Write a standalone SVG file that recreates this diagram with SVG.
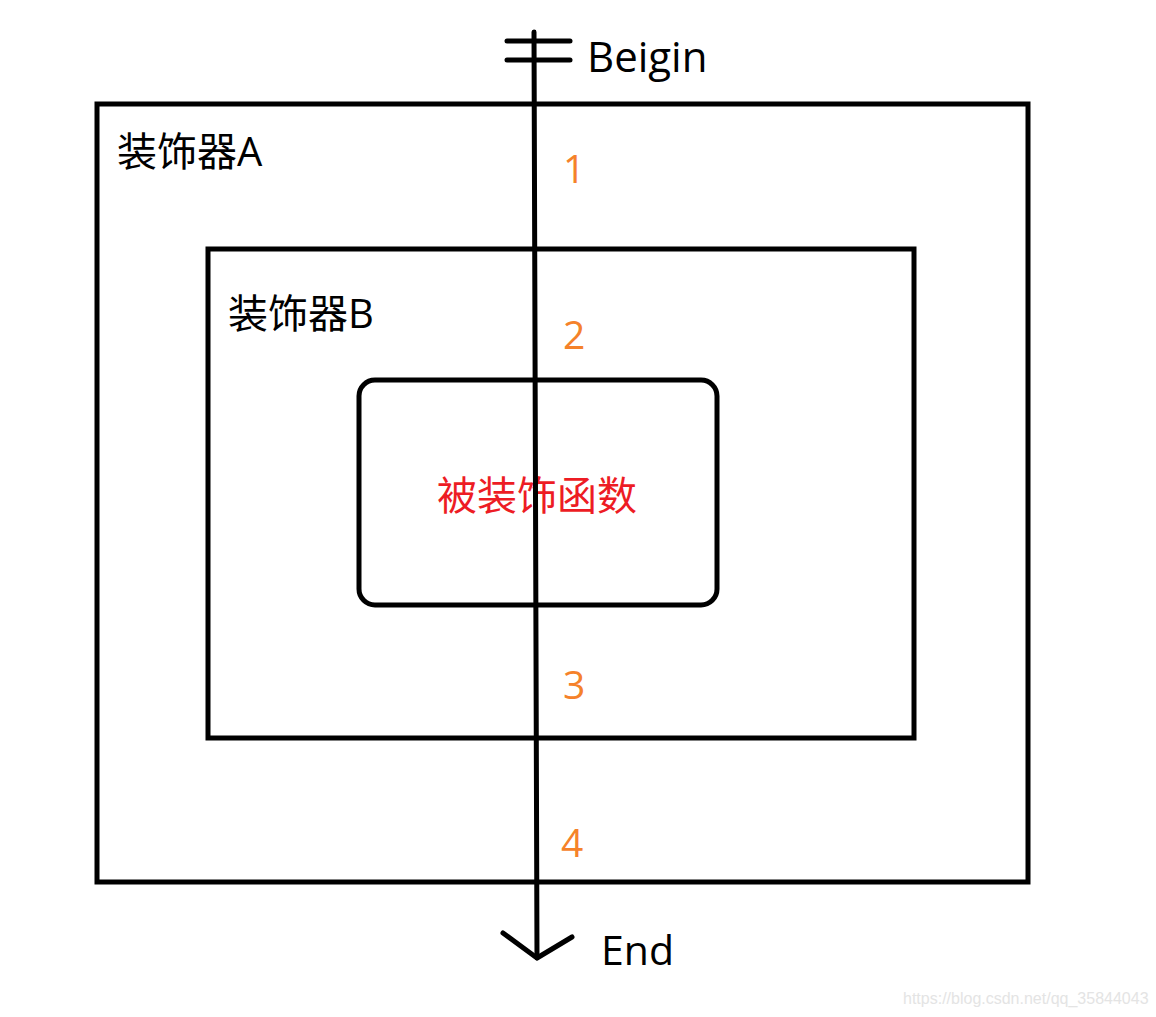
<svg xmlns="http://www.w3.org/2000/svg" width="1156" height="1017" viewBox="0 0 1156 1017">
<style>
.box{fill:none;stroke:#000;stroke-width:5}
.ln{fill:none;stroke:#000;stroke-width:5;stroke-linecap:round;stroke-linejoin:round}
.lbl{font-family:"Open Sans","Noto Sans CJK SC",sans-serif;font-size:40px;fill:#000}
.num{font-family:"Open Sans",sans-serif;font-size:39px;fill:#F5822A}
.fn{font-family:"Noto Sans CJK SC",sans-serif;font-size:40px;fill:#ED1C24}
.wm{font-family:"Liberation Sans",sans-serif;font-size:16px;fill:#e4e4e4}
</style>
<rect width="1156" height="1017" fill="#fff"/>
<g id="decoratorA">
<rect class="box" x="97" y="104" width="931" height="778"/>
<text class="lbl" x="117" y="166">装饰器A</text>
</g>
<g id="decoratorB">
<rect class="box" x="208" y="249" width="706" height="489"/>
<text class="lbl" x="228" y="328">装饰器B</text>
</g>
<g id="decorated">
<rect class="box" x="359" y="380" width="358" height="225" rx="16"/>
<text class="fn" x="537" y="510" text-anchor="middle">被装饰函数</text>
</g>
<g id="connectors">
<line class="ln" x1="534" y1="32" x2="537" y2="958"/>
<line class="ln" x1="507" y1="41" x2="570" y2="41"/>
<line class="ln" x1="507" y1="60" x2="570" y2="60"/>
<polyline class="ln" points="503,933 537,958 572,937"/>
</g>
<g id="labels">
<text class="lbl" x="587" y="72" style="font-size:42px">Beigin</text>
<text class="lbl" x="601" y="965" style="font-size:41px">End</text>
<text class="num" x="563" y="183">1</text>
<text class="num" x="563" y="349">2</text>
<text class="num" x="563" y="699">3</text>
<text class="num" x="561" y="857">4</text>
<text class="wm" x="903" y="1004">https://blog.csdn.net/qq_35844043</text>
</g>
</svg>
